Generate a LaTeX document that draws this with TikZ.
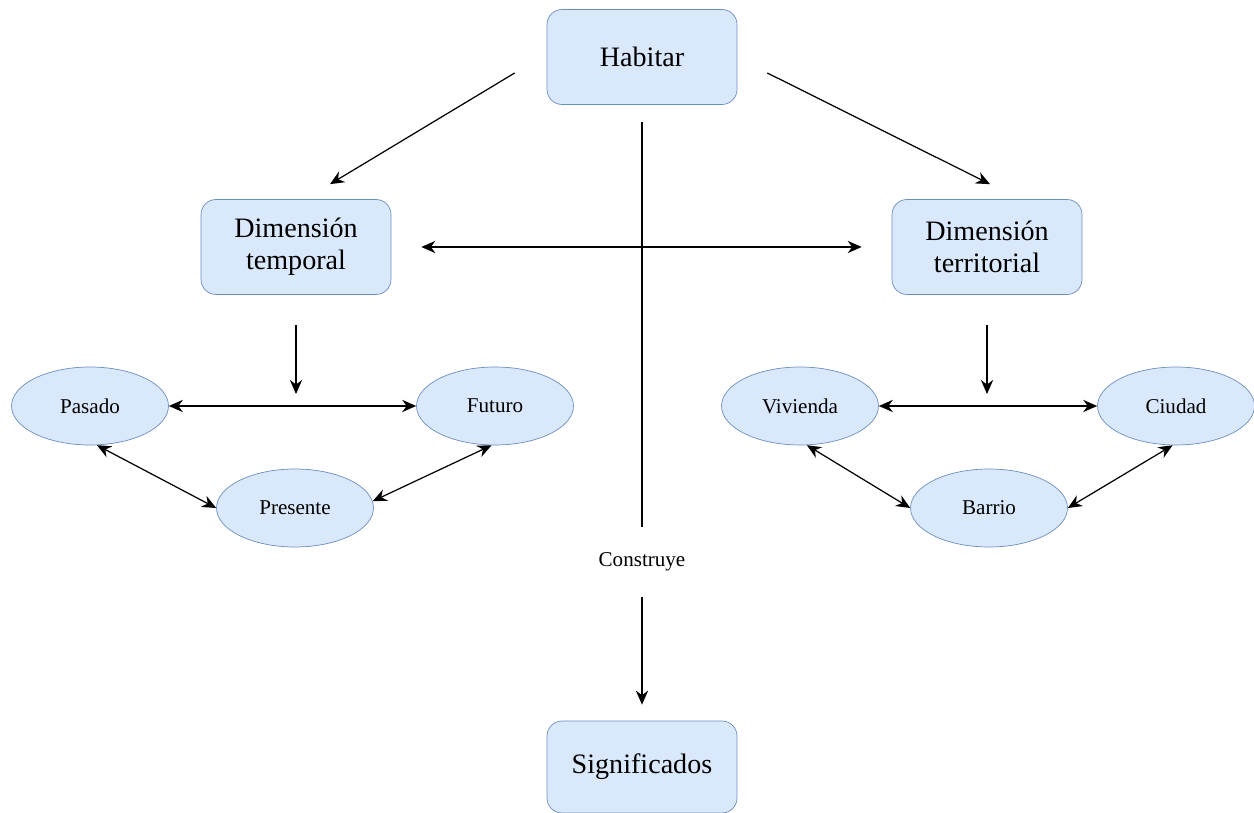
\documentclass[tikz,border=0pt]{standalone}
\usepackage{fontspec}
\setmainfont{Liberation Serif}
\usepackage{xcolor}
\usepackage{tikz}
\usetikzlibrary{arrows.meta, positioning, shapes.geometric, calc}

\definecolor{boxfill}{HTML}{DAE8FC}
\definecolor{boxline}{HTML}{6C8EBF}

\begin{document}
\begin{tikzpicture}[
    x=0.02cm, y=-0.02cm,
    font=\fontsize{12}{14}\selectfont,
    box/.style={draw=boxline, fill=boxfill, rounded corners=0.3cm, minimum width=3.8cm, minimum height=1.9cm, align=center, font=\fontsize{16}{18}\selectfont},
    oval/.style={ellipse, draw=boxline, fill=boxfill, minimum width=3.14cm, minimum height=1.56cm, inner sep=0pt},
    arrow/.style={-{Stealth[length=8pt, width=7pt]}, line width=0.7pt},
    twoway/.style={{Stealth[length=8pt, width=7pt]}-{Stealth[length=8pt, width=7pt]}, line width=0.7pt}
]
\useasboundingbox (0,0) rectangle (1254,813);

% Top and result
\node[box] (habitar) at (642,57) {Habitar};
\node[box, minimum height=1.84cm] (signif) at (642,767) {Significados};
\node[inner sep=0pt, minimum height=1.38cm] (construye) at (642,562) {Construye};

% Dimensions
\node[box] (temporal) at (296,247) {Dimensión\\temporal};
\node[box] (territorial) at (987,247) {Dimensión\\territorial};

% Time
\node[oval] (pasado) at (90,406) {Pasado};
\node[oval] (futuro) at (495,406) {Futuro};
\node[oval] (presente) at (295,508) {Presente};
\coordinate (tmid) at (296,406);

% Territory
\node[oval] (vivienda) at (800,406) {Vivienda};
\node[oval] (ciudad) at (1176,406) {Ciudad};
\node[oval] (barrio) at (989,508) {Barrio};
\coordinate (rmid) at (987,406);

% Arrows
\draw[arrow] ($(habitar.west)+(-32,16)$) -- ($(temporal.north)+(34,-15)$);
\draw[arrow] ($(habitar.east)+(30,16)$) -- ($(territorial.north)+(3,-15)$);
\draw[twoway, shorten <=0.6cm, shorten >=0.6cm] (temporal) -- (territorial);
\draw[line width=0.7pt, shorten <=0.35cm] (habitar) -- (construye);
\draw[arrow, shorten >=0.32cm] (construye) -- (signif);

\draw[arrow, shorten <=0.6cm, shorten >=0.24cm] (temporal) -- (tmid);
\draw[twoway] (pasado) -- (futuro);
\draw[twoway] (pasado.-80) -- (presente.west);
\draw[twoway] (presente.5) -- (futuro.-95);

\draw[arrow, shorten <=0.6cm, shorten >=0.24cm] (territorial) -- (rmid);
\draw[twoway] (vivienda) -- (ciudad);
\draw[twoway] (vivienda.-80) -- (barrio.west);
\draw[twoway] (barrio.east) -- (ciudad.-95);
\end{tikzpicture}
\end{document}
